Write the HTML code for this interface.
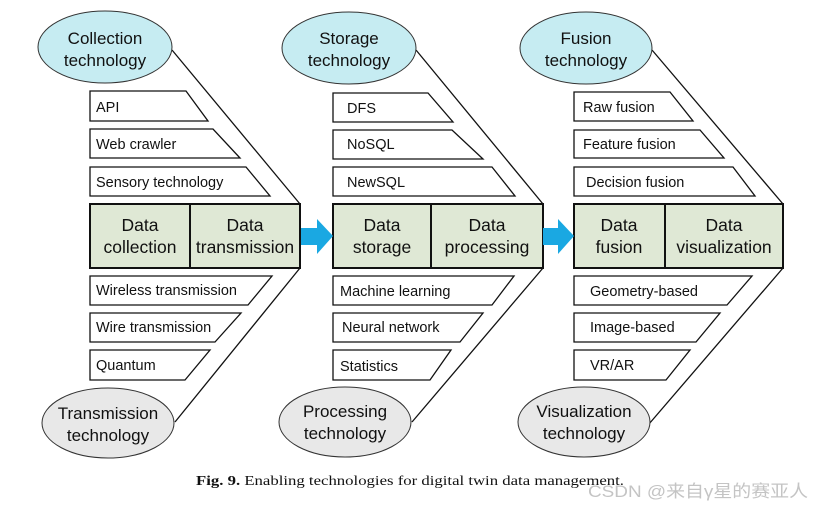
<!DOCTYPE html>
<html><head><meta charset="utf-8"><style>
body{margin:0;background:#fff;width:825px;height:511px;overflow:hidden}
svg{display:block}
.t{font-family:"Liberation Sans",sans-serif;fill:#111}
</style></head><body>
<svg width="825" height="511" viewBox="0 0 825 511" xmlns="http://www.w3.org/2000/svg">
<g stroke="#111" stroke-width="1.3">
<!-- connector lines -->
<line x1="172" y1="50" x2="300" y2="204"/>
<line x1="175" y1="422" x2="300" y2="268"/>
<line x1="416" y1="50" x2="543" y2="204"/>
<line x1="412" y1="422" x2="543" y2="268"/>
<line x1="652" y1="50" x2="783" y2="204"/>
<line x1="649" y1="424" x2="783" y2="268"/>
</g>
<!-- ellipses -->
<g stroke="#333" stroke-width="1">
<ellipse cx="105" cy="47" rx="67" ry="36" fill="#c6ecf2"/>
<ellipse cx="349" cy="48" rx="67" ry="36" fill="#c6ecf2"/>
<ellipse cx="586" cy="48" rx="66" ry="36" fill="#c6ecf2"/>
<ellipse cx="108" cy="423" rx="66" ry="35" fill="#e8e8e8"/>
<ellipse cx="345" cy="422" rx="66" ry="35" fill="#e8e8e8"/>
<ellipse cx="584" cy="422" rx="66" ry="35" fill="#e8e8e8"/>
</g>
<g class="t" font-size="17" text-anchor="middle">
<text x="105" y="44">Collection</text><text x="105" y="66">technology</text>
<text x="349" y="44">Storage</text><text x="349" y="66">technology</text>
<text x="586" y="44">Fusion</text><text x="586" y="66">technology</text>
<text x="108" y="419">Transmission</text><text x="108" y="441">technology</text>
<text x="345" y="417">Processing</text><text x="345" y="439">technology</text>
<text x="584" y="417">Visualization</text><text x="584" y="439">technology</text>
</g>
<!-- trapezoids -->
<g fill="#fff" stroke="#111" stroke-width="1.3">
<polygon points="90,91 186,91 208,121 90,121"/>
<polygon points="90,129 213,129 240,158 90,158"/>
<polygon points="90,167 246,167 270,196 90,196"/>
<polygon points="90,276 272,276 248,305 90,305"/>
<polygon points="90,313 241,313 215,342 90,342"/>
<polygon points="90,350 210,350 185,380 90,380"/>

<polygon points="333,93 428,93 453,122 333,122"/>
<polygon points="333,130 452,130 483,159 333,159"/>
<polygon points="333,167 492,167 515,196 333,196"/>
<polygon points="333,276 514,276 492,305 333,305"/>
<polygon points="333,313 483,313 460,342 333,342"/>
<polygon points="333,350 451,350 430,380 333,380"/>

<polygon points="574,92 670,92 693,121 574,121"/>
<polygon points="574,130 700,130 724,158 574,158"/>
<polygon points="574,167 733,167 755,196 574,196"/>
<polygon points="574,276 752,276 727,305 574,305"/>
<polygon points="574,313 720,313 696,342 574,342"/>
<polygon points="574,350 690,350 666,380 574,380"/>
</g>
<g class="t" font-size="14.5">
<text x="96" y="112">API</text>
<text x="96" y="149">Web crawler</text>
<text x="96" y="187">Sensory technology</text>
<text x="96" y="295">Wireless transmission</text>
<text x="96" y="332">Wire transmission</text>
<text x="96" y="370">Quantum</text>
<text x="347" y="113">DFS</text>
<text x="347" y="149">NoSQL</text>
<text x="347" y="187">NewSQL</text>
<text x="340" y="296">Machine learning</text>
<text x="342" y="332">Neural network</text>
<text x="340" y="371">Statistics</text>
<text x="583" y="112">Raw fusion</text>
<text x="583" y="149">Feature fusion</text>
<text x="586" y="187">Decision fusion</text>
<text x="590" y="296">Geometry-based</text>
<text x="590" y="332">Image-based</text>
<text x="590" y="370">VR/AR</text>
</g>
<!-- main boxes -->
<g fill="#dfe8d5" stroke="#111" stroke-width="2">
<rect x="90" y="204" width="210" height="64"/><line x1="190" y1="204" x2="190" y2="268"/>
<rect x="333" y="204" width="210" height="64"/><line x1="431" y1="204" x2="431" y2="268"/>
<rect x="574" y="204" width="209" height="64"/><line x1="665" y1="204" x2="665" y2="268"/>
</g>
<g class="t" font-size="17.5" text-anchor="middle">
<text x="140" y="231">Data</text><text x="140" y="253">collection</text>
<text x="245" y="231">Data</text><text x="245" y="253">transmission</text>
<text x="382" y="231">Data</text><text x="382" y="253">storage</text>
<text x="487" y="231">Data</text><text x="487" y="253">processing</text>
<text x="619" y="231">Data</text><text x="619" y="253">fusion</text>
<text x="724" y="231">Data</text><text x="724" y="253">visualization</text>
</g>
<!-- arrows -->
<g fill="#1aa8e2">
<polygon points="301,228 317,228 317,219 333,236 317,254 317,245 301,245"/>
<polygon points="543,228 558,228 558,219 574,236 558,254 558,245 543,245"/>
</g>
<text x="196" y="485" font-family="Liberation Serif,serif" font-size="13.5" fill="#111" textLength="428" lengthAdjust="spacingAndGlyphs"><tspan font-weight="bold">Fig. 9.</tspan> Enabling technologies for digital twin data management.</text>
<text x="588" y="497" font-family="Liberation Sans,'Noto Sans CJK SC',sans-serif" font-size="17" fill="#c4c4c4" textLength="220" lengthAdjust="spacingAndGlyphs">CSDN @来自γ星的赛亚人</text>
</svg>
</body></html>
